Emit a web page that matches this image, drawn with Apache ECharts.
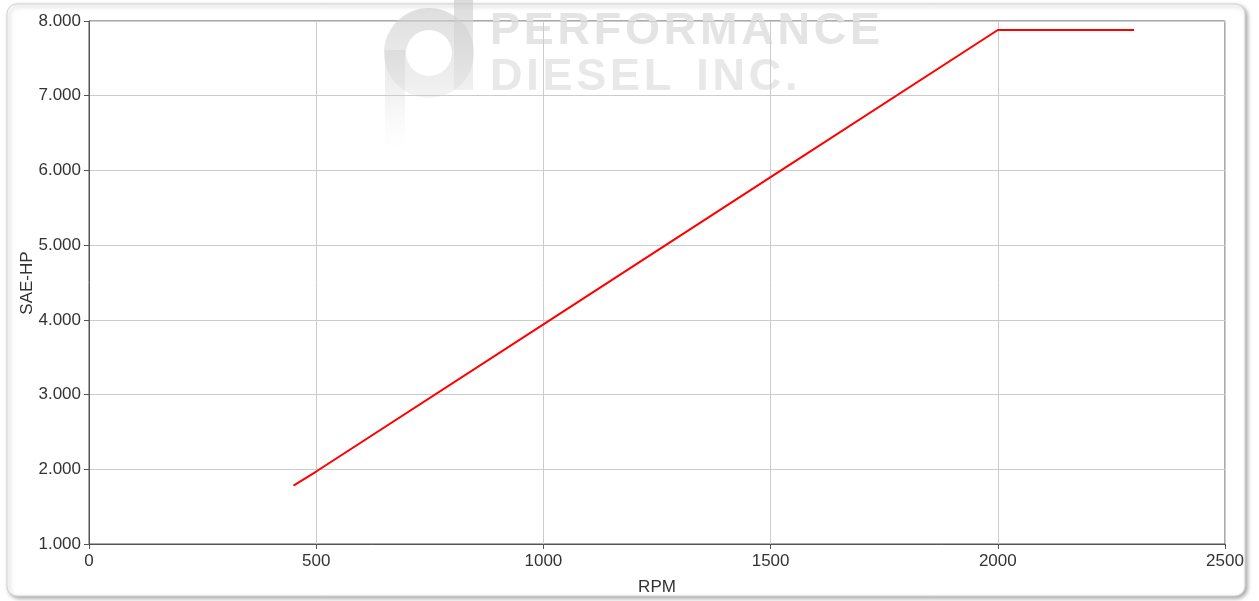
<!DOCTYPE html>
<html>
<head>
<meta charset="utf-8">
<script src="https://cdn.jsdelivr.net/npm/echarts@6/dist/echarts.min.js"></script>
<style>
html,body{margin:0;padding:0;background:#fff;}
#c{width:1259px;height:601px;}
</style>
</head>
<body>
<div id="c"></div>
<script>
var rpm = [450, 500, 1000, 1500, 2000, 2300];
var saeHp = [1.78, 1.97, 3.94, 5.91, 7.88, 7.88];
var xTicks = [0, 500, 1000, 1500, 2000, 2500];
var yTicks = [1, 2, 3, 4, 5, 6, 7, 8];
var xName = 'RPM';
var yName = 'SAE-HP';

var FONT = 'Arial, "Liberation Sans", sans-serif';
var chart = echarts.init(document.getElementById('c'), null, {renderer: 'canvas'});
function fade() {
  return {type: 'linear', x: 0, y: 0, x2: 0, y2: 140, global: true, colorStops: [
    {offset: 0, color: 'rgba(205,205,205,0.7)'},
    {offset: 0.6, color: 'rgba(215,215,215,0.4)'},
    {offset: 1, color: 'rgba(230,230,230,0.05)'}
  ]};
}
var hs = '\u200A';
function spaced(s) { return s.split('').join(hs); }
var option = {
  animation: false,
  backgroundColor: '#fff',
  graphic: [
    {type: 'rect', z: -10, shape: {x: 7, y: 4, width: 1238, height: 592, r: 10},
     style: {fill: '#fff', stroke: '#d4d4d4', lineWidth: 1, shadowBlur: 4, shadowOffsetX: 2, shadowOffsetY: 2, shadowColor: 'rgba(0,0,0,0.35)'}},
    {type: 'group', z: -5, silent: true, children: [
      {type: 'ring', shape: {cx: 429, cy: 53, r: 45, r0: 23}, style: {fill: fade()}},
      {type: 'rect', shape: {x: 454, y: -5, width: 19, height: 95}, style: {fill: fade()}},
      {type: 'rect', shape: {x: 385, y: 50, width: 20, height: 95}, style: {fill: fade()}},
      {type: 'text', style: {x: 490, y: 9, text: spaced('PERFORMANCE'), fill: '#e4e4e4', font: 'bold 45px ' + FONT}},
      {type: 'text', style: {x: 490, y: 55, text: spaced('DIESEL') + '  ' + spaced('INC.'), fill: '#e8e8e8', font: 'bold 45px ' + FONT}}
    ]},
    {type: 'text', x: 27, y: 283, rotation: Math.PI / 2, z: 10,
     style: {text: yName, fill: '#333', font: '17px ' + FONT, align: 'center', verticalAlign: 'middle'}}
  ],
  grid: {left: 89, right: 34, top: 21, bottom: 56, show: true, borderColor: '#555', borderWidth: 1, backgroundColor: 'transparent'},
  xAxis: {
    type: 'value', min: 0, max: 2500, interval: 500,
    name: xName, nameLocation: 'middle', nameGap: 35,
    nameTextStyle: {color: '#333', fontSize: 17, fontFamily: FONT},
    axisLine: {show: true, lineStyle: {color: '#555'}},
    axisTick: {show: true, length: 5, lineStyle: {color: '#555'}},
    axisLabel: {color: '#333', fontSize: 17, margin: 9, fontFamily: FONT,
      formatter: function (v) { return xTicks.indexOf(v) >= 0 ? String(v) : ''; }},
    splitLine: {show: true, lineStyle: {color: '#cccccc'}}
  },
  yAxis: {
    type: 'value', min: 1, max: 8, interval: 1,
    axisLine: {show: true, lineStyle: {color: '#555'}},
    axisTick: {show: true, length: 5, lineStyle: {color: '#555'}},
    axisLabel: {color: '#333', fontSize: 17, margin: 8, fontFamily: FONT,
      formatter: function (v) { return yTicks.indexOf(v) >= 0 ? v.toFixed(3) : ''; }},
    splitLine: {show: true, lineStyle: {color: '#cccccc'}}
  },
  series: [{
    type: 'line',
    data: rpm.map(function (x, i) { return [x, saeHp[i]]; }),
    showSymbol: false,
    symbol: 'none',
    lineStyle: {color: '#ff0000', width: 2},
    z: 5
  }]
};
chart.setOption(option);
</script>
</body>
</html>
